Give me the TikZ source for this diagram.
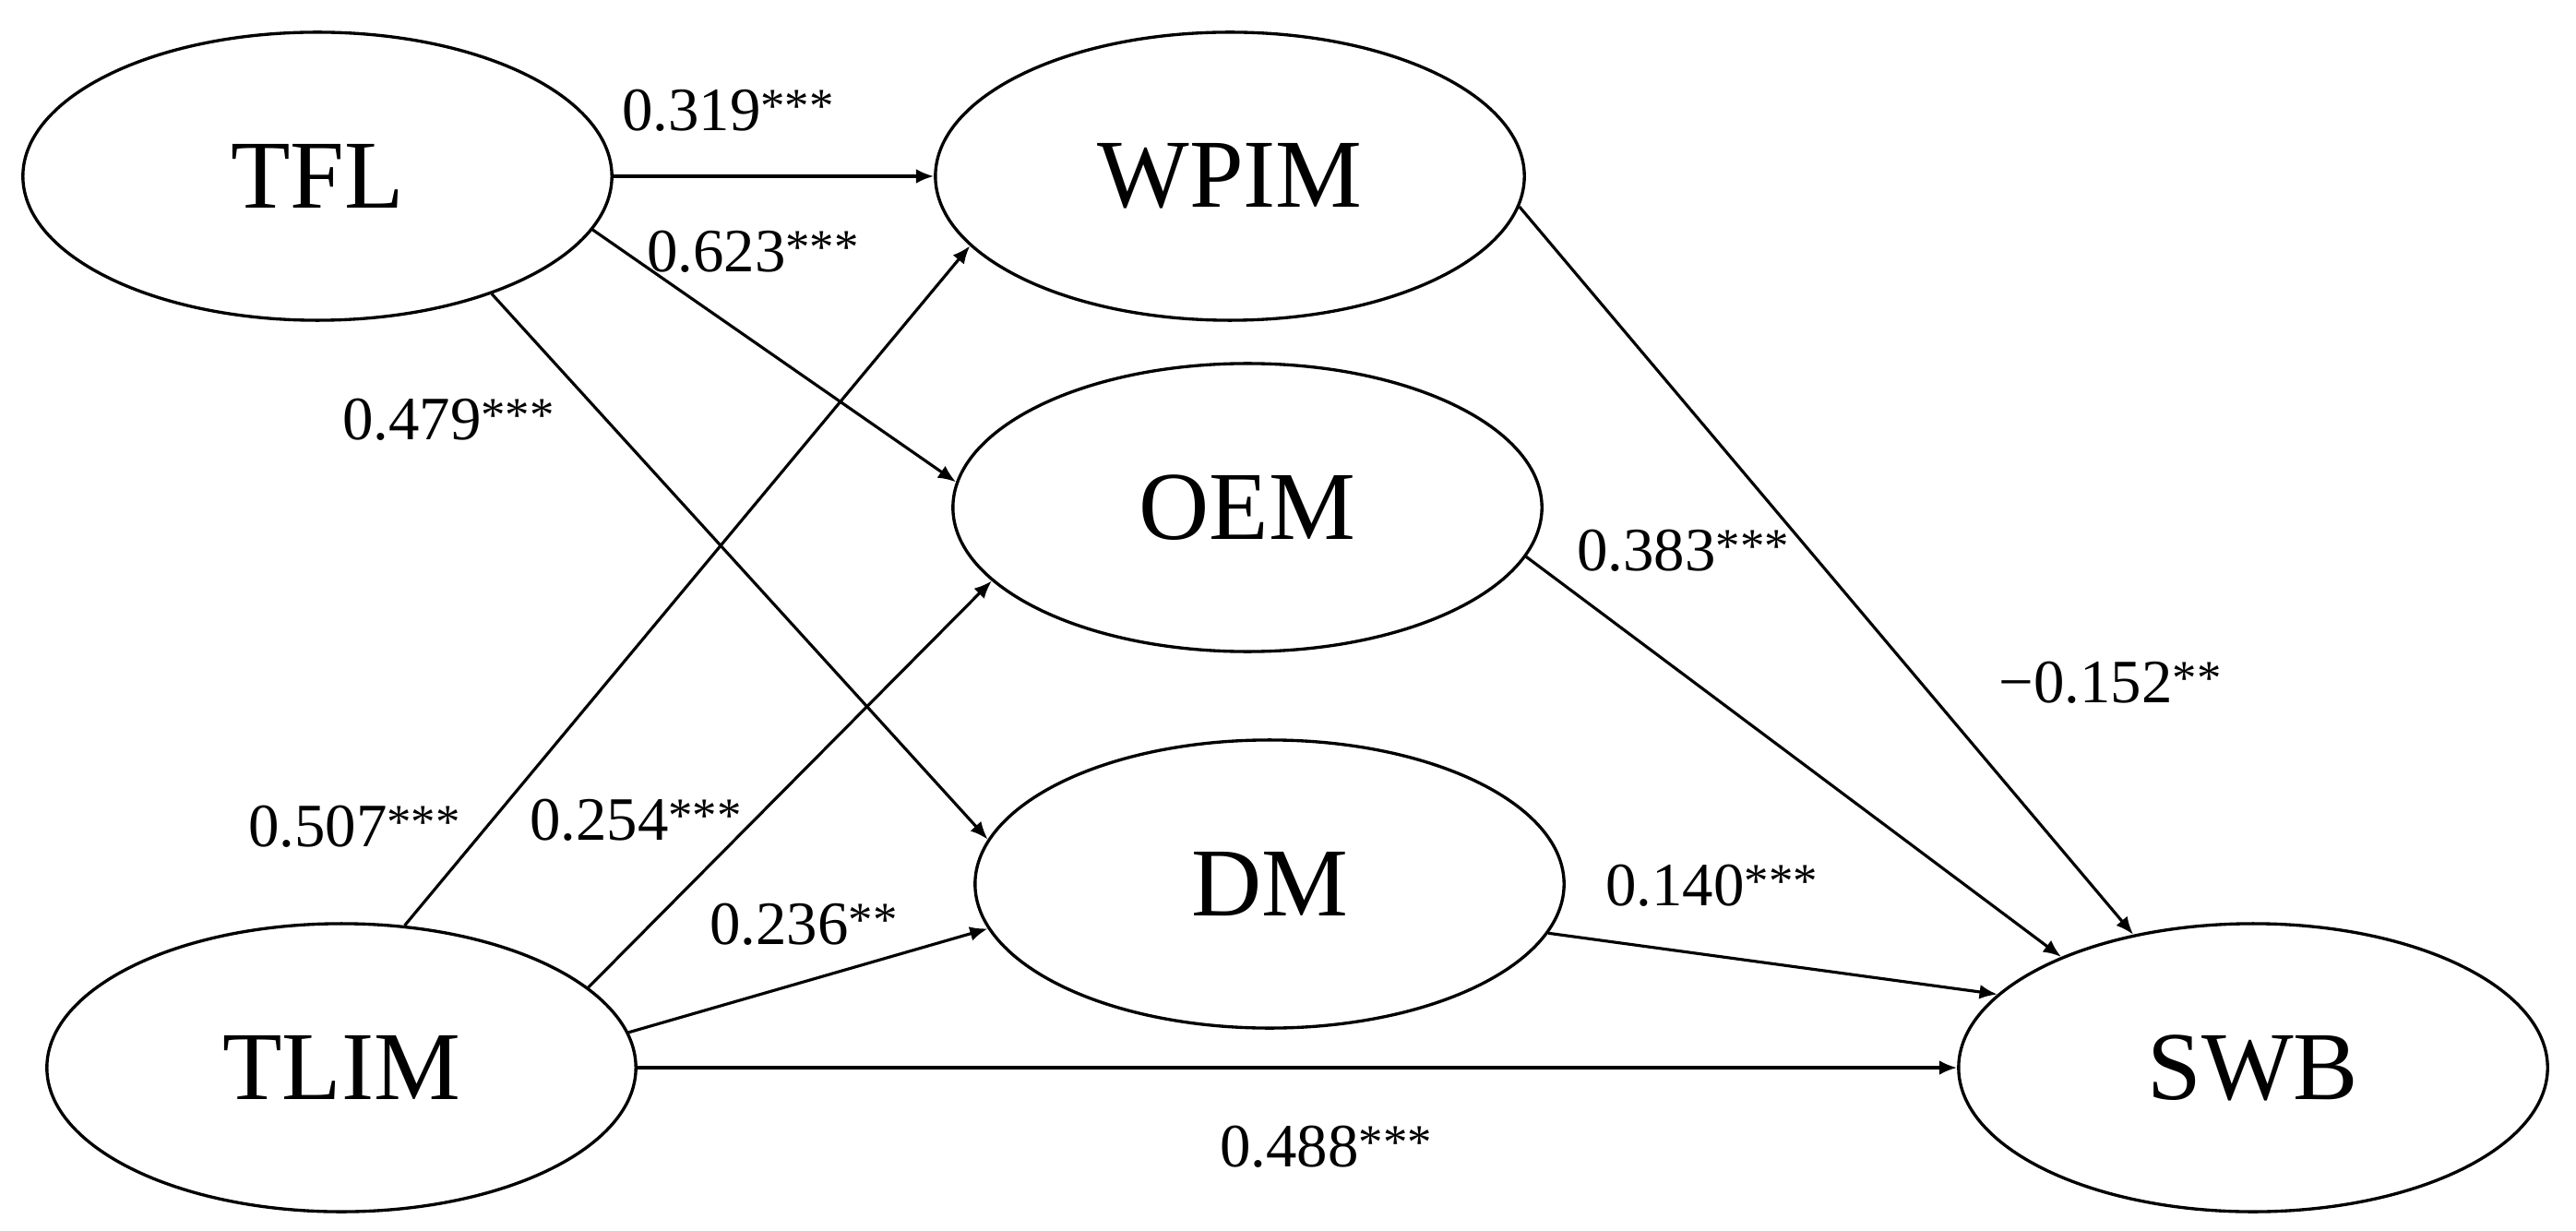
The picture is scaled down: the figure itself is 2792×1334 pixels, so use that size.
\documentclass[tikz,border=0pt]{standalone}
\usepackage{fontspec}
\setmainfont{Liberation Serif}
\usetikzlibrary{shapes.geometric,arrows.meta}
\newcommand{\sig}[1]{\raisebox{2.5pt}{\fontsize{15pt}{15pt}\selectfont #1}}
\tikzset{
  latent/.style={ellipse, draw, line width=0.95pt, minimum width=6.38cm, minimum height=3.12cm, inner sep=0pt, font=\fontsize{30pt}{36pt}\selectfont},
  path/.style={line width=0.9pt, -{Latex[length=5.5pt,width=4.5pt]}},
  coef/.style={font=\fontsize{19pt}{22pt}\selectfont, inner sep=0pt}
}
\begin{document}
\begin{tikzpicture}[x=0.01cm,y=-0.01cm]
\useasboundingbox (0,0) rectangle (2792,1334);
% constructs
\node[latent] (TFL)  at (344,191)   {TFL};
\node[latent] (WPIM) at (1333,191)  {WPIM};
\node[latent] (OEM)  at (1352,550)  {OEM};
\node[latent] (DM)   at (1376,958)  {DM};
\node[latent] (TLIM) at (370,1157)  {TLIM};
\node[latent] (SWB)  at (2442,1157) {SWB};
% paths
\draw[path] (TFL.east) -- (WPIM.west);
\draw[path] (TFL.-11.4) -- (OEM.175);
\draw[path] (TFL.-34.9) -- (DM.171.4);
\draw[path] (TLIM.66.4) -- (WPIM.195.3);
\draw[path] (TLIM.18.6) -- (OEM.196);
\draw[path] (TLIM.7.3) -- (DM.189.6);
\draw[path] (TLIM.east) -- (SWB.west);
\draw[path] (WPIM.-6.7) -- (SWB.132.5);
\draw[path] (OEM.-10.9) -- (SWB.150.6);
\draw[path] (DM.-10.4) -- (SWB.164.6);
% coefficients
\node[coef] (c1)  at (789,120)  {0.319\sig{***}};
\node[coef] (c2)  at (816,273)  {0.623\sig{***}};
\node[coef] (c3)  at (486,455)  {0.479\sig{***}};
\node[coef] (c4)  at (384,896)  {0.507\sig{***}};
\node[coef] (c5)  at (689,889)  {0.254\sig{***}};
\node[coef] (c6)  at (871,1002) {0.236\sig{**}};
\node[coef] (c7)  at (1437,1243){0.488\sig{***}};
\node[coef] (c8)  at (1824,597)  {0.383\sig{***}};
\node[coef] (c9)  at (1855,960)  {0.140\sig{***}};
\node[coef] (c10) at (2287,740)  {−0.152\sig{**}};
\end{tikzpicture}
\end{document}
